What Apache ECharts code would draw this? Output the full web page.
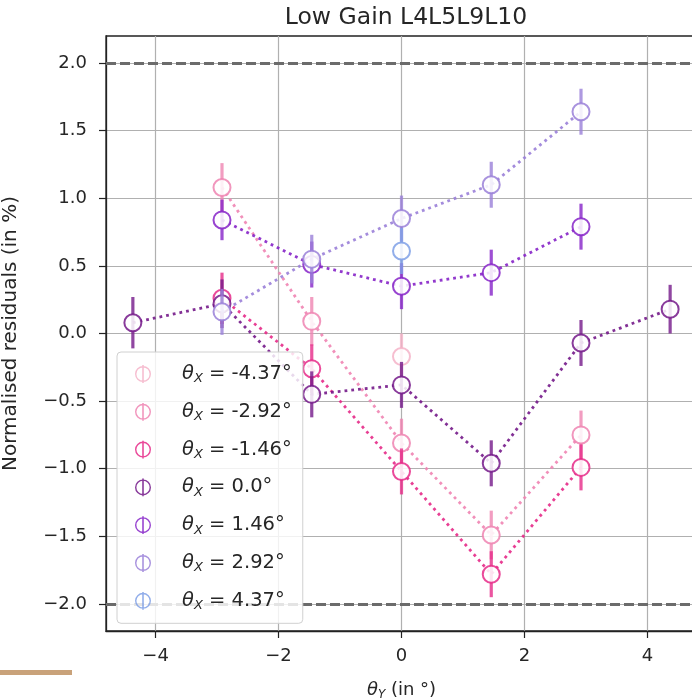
<!DOCTYPE html>
<html>
<head>
<meta charset="utf-8">
<script src="https://cdn.jsdelivr.net/npm/echarts@6/dist/echarts.min.js"></script>
<style>
  html, body { margin: 0; padding: 0; background: #ffffff; }
  #chart { width: 692px; height: 700px; }
</style>
</head>
<body>
<div id="chart"></div>
<script>
// θY positions (degrees) shared by every θX scan
const thetaY = [-4.37, -2.92, -1.46, 0, 1.46, 2.92, 4.37];

// Normalised residuals (in %) and their uncertainties, one pair per θX
const resM437 = [null, null, null, -0.17, null, null, null];
const errM437 = [null, null, null, 0.17, null, null, null];
const resM292 = [null, 1.08, 0.09, -0.81, -1.49, -0.75, null];
const errM292 = [null, 0.18, 0.18, 0.18, 0.18, 0.18, null];
const resM146 = [null, 0.26, -0.26, -1.02, -1.78, -0.99, null];
const errM146 = [null, 0.19, 0.18, 0.17, 0.17, 0.17, null];
const res000 = [0.08, 0.22, -0.45, -0.38, -0.96, -0.07, 0.18];
const err000 = [0.19, 0.18, 0.17, 0.17, 0.17, 0.17, 0.18];
const resP146 = [null, 0.84, 0.51, 0.35, 0.45, 0.79, null];
const errP146 = [null, 0.15, 0.17, 0.17, 0.17, 0.17, null];
const resP292 = [null, 0.16, 0.55, 0.85, 1.10, 1.64, null];
const errP292 = [null, 0.17, 0.18, 0.17, 0.17, 0.17, null];
const resP437 = [null, null, null, 0.61, null, null, null];
const errP437 = [null, null, null, 0.17, null, null, null];

const thetaXLabels = ['-4.37', '-2.92', '-1.46', '0.0', '1.46', '2.92', '4.37'];
const residuals = [resM437, resM292, resM146, res000, resP146, resP292, resP437];
const errors = [errM437, errM292, errM146, err000, errP146, errP292, errP437];

// Axis ticks and the ±2 % tolerance band
const xTicks = [-4, -2, 0, 2, 4];
const yTicks = [-2, -1.5, -1, -0.5, 0, 0.5, 1, 1.5, 2];
const limitLines = [2, -2];

const colors = ['#f5b3c8', '#ef84b2', '#e62a88', '#74198a', '#8623c8', '#9a80d8', '#7fa0e6'];

const FONT = 'DejaVu Sans';
const INK = '#262626';
const minus = v => String(v).replace('-', '\u2212');

// errorbar-style legend handle: ring with a vertical bar through it
const handleIcon = 'path://M10,1 A9,9 0 1,1 9.99,1 Z M10,2.6 A7.4,7.4 0 1,0 10.01,2.6 Z M9.1,0 L10.9,0 L10.9,20 L9.1,20 Z';

const series = [];
thetaXLabels.forEach((lab, i) => {
  const pts = [];
  const bars = [];
  thetaY.forEach((x, j) => {
    if (residuals[i][j] !== null) {
      pts.push([x, residuals[i][j]]);
      bars.push([x, residuals[i][j], errors[i][j]]);
    }
  });
  const c = colors[i];
  series.push({
    name: lab,
    type: 'custom',
    data: bars,
    z: 2 + i * 2,
    silent: true,
    renderItem: (params, api) => {
      const x = api.value(0), y = api.value(1), e = api.value(2);
      const top = api.coord([x, y + e]);
      const bot = api.coord([x, y - e]);
      return {
        type: 'line',
        shape: { x1: top[0], y1: top[1], x2: bot[0], y2: bot[1] },
        style: { stroke: c, lineWidth: 3.2, opacity: 0.8 }
      };
    }
  });
  series.push({
    name: lab,
    type: 'line',
    data: pts,
    z: 3 + i * 2,
    symbol: 'emptyCircle',
    symbolSize: 17,
    showSymbol: true,
    itemStyle: { color: c, borderColor: c, borderWidth: 1.7, opacity: 0.85 },
    lineStyle: { color: c, width: 2.8, type: [2.8, 4], opacity: 0.9 },
    emphasis: { disabled: true },
    markLine: i === 0 ? {
      silent: true,
      symbol: 'none',
      label: { show: false },
      lineStyle: { color: '#6b6b6b', width: 2.8, type: [10, 4], opacity: 1 },
      data: limitLines.map(v => ({ yAxis: v }))
    } : undefined
  });
});

const chart = echarts.init(document.getElementById('chart'), null, { renderer: 'canvas' });
chart.setOption({
  animation: false,
  backgroundColor: '#ffffff',
  textStyle: { fontFamily: FONT },
  title: {
    text: 'Low Gain L4L5L9L10',
    left: 401,
    textAlign: 'center',
    top: 1,
    textStyle: { fontFamily: FONT, fontSize: 23.5, fontWeight: 'normal', color: INK }
  },
  grid: {
    left: 106, top: 36, width: 591, height: 595,
    outerBoundsMode: 'none',
    containLabel: false,
    show: true, borderColor: '#222222', borderWidth: 1.3, backgroundColor: 'transparent'
  },
  xAxis: {
    type: 'value',
    min: -4.807, max: 4.807,
    name: '{th|θ}{sub|Y}{n| (in °)}',
    nameLocation: 'middle',
    nameGap: 49,
    nameTextStyle: {
      rich: {
        th: { fontFamily: FONT, fontSize: 18, fontStyle: 'italic', color: INK },
        sub: { fontFamily: FONT, fontSize: 12, fontStyle: 'italic', color: INK, padding: [9, 0, 0, 0] },
        n: { fontFamily: FONT, fontSize: 18, color: INK }
      }
    },
    axisLine: { show: true, onZero: false, lineStyle: { color: '#222222', width: 1.3 } },
    axisTick: { show: true, length: 7, customValues: xTicks, lineStyle: { color: '#222222', width: 1.2 } },
    axisLabel: {
      customValues: xTicks, margin: 16,
      fontFamily: FONT, fontSize: 18, color: INK,
      formatter: v => minus(v)
    },
    splitLine: { show: true, lineStyle: { color: '#b0b0b0', width: 1.2 } }
  },
  yAxis: {
    type: 'value',
    min: -2.2, max: 2.2,
    name: 'Normalised residuals (in %)',
    nameLocation: 'middle',
    nameGap: 85,
    nameTextStyle: { fontFamily: FONT, fontSize: 20, color: INK },
    axisLine: { show: true, onZero: false, lineStyle: { color: '#222222', width: 1.3 } },
    axisTick: { show: true, length: 7, customValues: yTicks, lineStyle: { color: '#222222', width: 1.2 } },
    axisLabel: {
      customValues: yTicks, margin: 19,
      fontFamily: FONT, fontSize: 18, color: INK,
      formatter: v => minus(v.toFixed(1))
    },
    splitLine: { show: true, lineStyle: { color: '#b0b0b0', width: 1.2 } }
  },
  legend: {
    orient: 'vertical',
    left: 117, top: 352,
    z: 50,
    padding: [12, 11, 11, 18],
    itemWidth: 16, itemHeight: 18,
    itemGap: 16.3,
    backgroundColor: 'rgba(255,255,255,0.82)',
    borderColor: '#d0d0d0', borderWidth: 1, borderRadius: 4,
    selectedMode: false,
    data: thetaXLabels.map((n, i) => ({
      name: n,
      icon: handleIcon,
      itemStyle: { color: colors[i], borderWidth: 0, opacity: 0.85 }
    })),
    formatter: n => '{th|θ}{sub|X}{n| = ' + n + '°}',
    textStyle: {
      rich: {
        th: { fontFamily: FONT, fontSize: 19.5, fontStyle: 'italic', color: INK, padding: [0, 0, 0, 26] },
        sub: { fontFamily: FONT, fontSize: 13, fontStyle: 'italic', color: INK, padding: [10, 0, 0, 0] },
        n: { fontFamily: FONT, fontSize: 19.5, color: INK }
      }
    }
  },
  graphic: [{
    type: 'rect',
    shape: { x: 0, y: 670, width: 72, height: 5 },
    style: { fill: '#c9a27a' },
    silent: true
  }],
  series: series
});
</script>
</body>
</html>
